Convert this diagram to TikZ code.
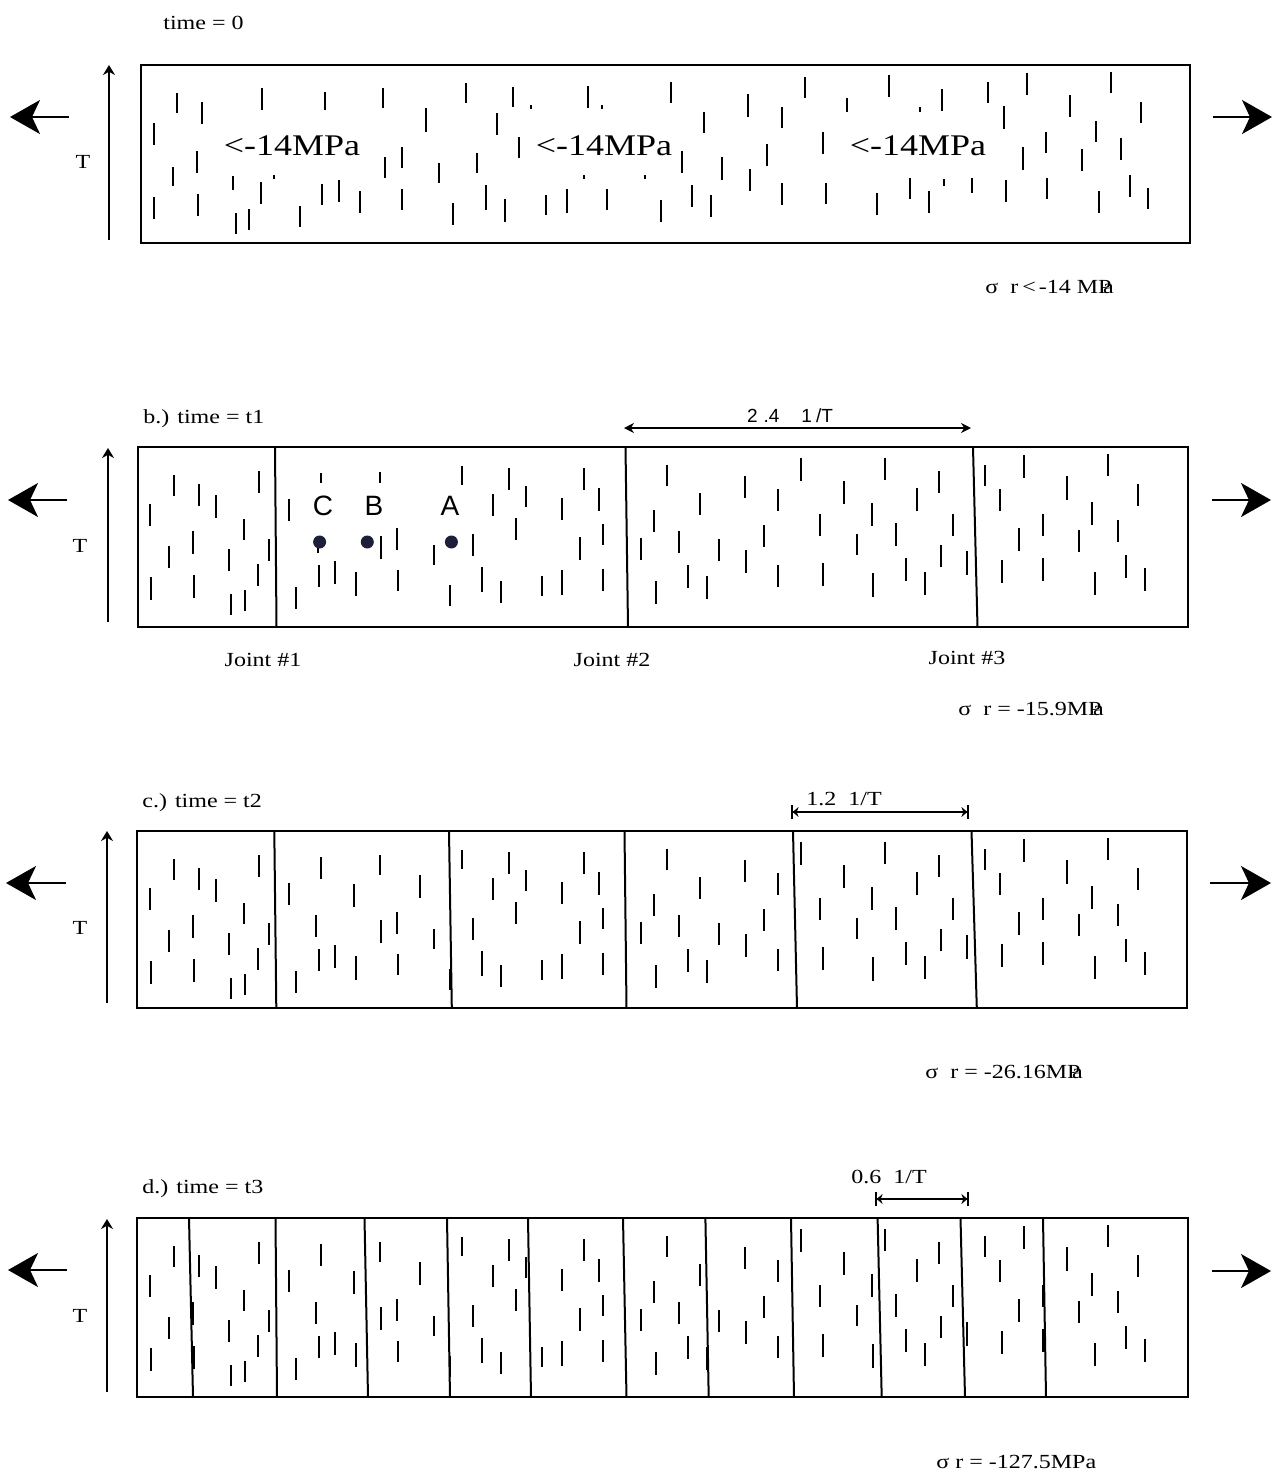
\documentclass[tikz,border=0pt]{standalone}
\usepackage{fontspec}
\setmainfont{Liberation Serif}[FakeStretch=1.2]
\setsansfont{Liberation Sans}
\usetikzlibrary{arrows.meta}

\definecolor{dotnavy}{RGB}{28,30,58}

\tikzset{
  slab/.style={line width=1.1pt},
  crack/.style={line width=0.9pt},
  joint/.style={line width=1pt},
  pull/.style={line width=1pt,-{Stealth[length=15pt,width=17pt,inset=4pt]}},
  taxis/.style={line width=1pt,-{Stealth[length=5pt,width=6pt]}},
  gap/.style={line width=0.8pt,{Stealth[length=5pt,width=5pt]}-{Stealth[length=5pt,width=5pt]}},
  gapbar/.style={line width=0.8pt,{Bar[width=7pt]Stealth[length=3pt,width=5pt]}-{Stealth[length=3pt,width=5pt]Bar[width=7pt]}},
  lbl/.style={font=\fontsize{10}{12}\selectfont,inner sep=0pt},
  stress/.style={font=\fontsize{15}{18}\selectfont,inner sep=0pt},
  site/.style={font=\sffamily\fontsize{14}{16}\selectfont,inner sep=0pt},
}

% cracks common to the jointed slabs, #1 = top edge
\newcommand\crackset[1]{%
  \foreach \x/\ya/\yb in {174/28/49,199/37/59,216/48/71,259/24/46,150/57/79,244/72/93,
    193/84/107,169/99/121,229/102/124,269/92/114,258/117/139,151/130/153,194/128/151,
    231/147/168,245/143/164,
    289/52/74,381/89/112,397/81/103,434/98/118,319/118/140,335/114/137,
    356/125/149,398/123/144,296/140/162,450/138/159,
    462/19/38,509/21/43,526/39/60,493/47/69,584/21/43,599/41/64,562/51/73,516/71/93,
    603/77/98,580/90/113,473/87/109,482/120/145,501/134/156,542/129/149,562/123/148,603/122/144,
    667/18/39,700/46/68,654/63/85,641/91/113,679/84/106,656/134/157,688/118/141,707/129/152,
    719/92/114,745/29/51,746/103/126,764/78/100,778/42/64,778/118/140,
    801/11/34,820/67/89,823/116/139,844/34/57,857/87/108,872/56/79,873/126/150,885/11/33,
    896/76/99,906/111/134,917/41/64,925/125/148,939/24/46,941/98/120,953/67/89,967/104/128,
    985/18/39,1000/42/64,1024/8/31,1067/29/53,1108/7/29,1138/37/59,1092/55/78,1043/67/89,
    1019/81/104,1079/83/105,1118/73/95,1002/113/136,1043/111/134,1095/125/148,1126/108/131,1145/121/144}
    \draw[crack] (\x,#1+\ya) -- (\x,#1+\yb);
}
% cracks hidden by the labels in b.)
\newcommand\crackextra[1]{%
  \foreach \x/\ya/\yb in {321/26/48,380/24/44,354/53/76,316/84/106,420/44/67}
    \draw[crack] (\x,#1+\ya) -- (\x,#1+\yb);
}

\begin{document}
\begin{tikzpicture}[x=0.5pt,y=-0.5pt]

    \useasboundingbox[fill=white] (0,0) rectangle (1276,1473);

    % a.) time = 0
    \node[lbl,anchor=base west] (tA) at (163,29) {time = 0};
    \draw[slab] (141,65) rectangle (1190,243);
    \draw[pull] (69,117) -- (10,117);
    \draw[pull] (1213,117) -- (1272,117);
    \draw[taxis] (109,240) -- (109,65);
    \node[lbl,anchor=base] (aT) at (83,168) {T};
    \foreach \x/\ya/\yb in {177/93/113,202/102/124,262/88/110,325/92/110,383/88/108,466/83/103,
      513/87/107,588/86/108,426/108/132,497/113/135,154/123/145,519/137/158,197/151/173,
      385/157/178,402/147/168,439/163/183,477/153/173,173/167/186,233/176/190,261/182/204,
      154/197/219,198/194/216,236/213/234,249/209/230,300/206/227,322/184/205,339/180/202,
      360/191/213,402/189/210,453/203/225,486/185/210,505/199/222,546/195/215,567/189/213,
      607/189/210,531/105/109,602/105/109,274/175/179,584/175/179,645/175/179,
      671/82/103,805/77/98,889/75/97,1027/73/95,1111/72/93,748/94/117,782/107/128,847/98/112,
      920/107/112,942/89/111,988/82/103,1004/106/129,1070/95/117,1141/102/123,704/112/133,
      1096/121/142,1046/132/153,1121/138/160,823/132/154,767/144/166,682/151/173,722/157/180,
      1023/147/170,1082/149/171,750/169/191,692/185/207,711/195/217,782/183/205,826/183/204,
      877/193/215,910/178/199,929/191/213,944/179/186,972/178/193,1006/180/202,1047/178/199,
      1099/191/213,1130/175/197,1148/188/209,661/200/222}
      \draw[crack] (\x,\ya) -- (\x,\yb);
    \node[stress,anchor=base] (s1) at (292,155) {<-14MPa};
    \node[stress,anchor=base] (s2) at (604,155) {<-14MPa};
    \node[stress,anchor=base] (s3) at (918,155) {<-14MPa};
    \node[lbl,anchor=base west] (rA) at (985,293)
      {σ\hspace{0.6em}r\hspace{0.2em}<\hspace{0.15em}-14 M\rlap{P}\kern0.25em a};

    % b.) time = t1
    \def\topb{447}
    \node[lbl,anchor=base west] (tB) at (143,423) {b.) time = t1};
    \draw[slab] (138,\topb) rectangle (1188,627);
    \draw[pull] (67,500) -- (8,500);
    \draw[pull] (1212,500) -- (1271,500);
    \draw[taxis] (108,622) -- (108,448);
    \node[lbl,anchor=base] (bT) at (80,552) {T};
    \foreach \xa/\xb in {275/276.5,625.5/628,973/977.5}
      \draw[joint] (\xa,\topb) -- (\xb,627);
    \crackset{\topb}
    \draw[crack] (321,473) -- (321,483);
    \draw[crack] (380,472) -- (380,483);
    \draw[crack] (318,537) -- (318,553);
    \fill[dotnavy] (319.6,542) circle[radius=6.5];
    \fill[dotnavy] (367.3,542) circle[radius=6.5];
    \fill[dotnavy] (451.4,542) circle[radius=6.5];
    \node[site,anchor=base] (lC) at (323,515) {C};
    \node[site,anchor=base] (lB) at (374,515) {B};
    \node[site,anchor=base] (lA) at (450,515) {A};
    \coordinate (b-gl) at (624,428);
    \coordinate (b-gr) at (971,428);
    \draw[gap] (b-gl) -- (b-gr);
    \node[anchor=base,inner sep=0pt,font=\sffamily\fontsize{9.5}{11}\selectfont] (bW) at (790,422)
      {2\hspace{3pt}.4\hspace{11pt}1\hspace{2pt}/T};
    \node[lbl,anchor=base] (j1) at (263,666) {Joint \#1};
    \node[lbl,anchor=base] (j2) at (612,666) {Joint \#2};
    \node[lbl,anchor=base] (j3) at (967,664) {Joint \#3};
    \node[lbl,anchor=base west] (rB) at (958,715)
      {σ\hspace{0.6em}r = -15.9M\rlap{P}\kern0.25em a};

    % c.) time = t2
    \def\topc{831}
    \node[lbl,anchor=base west] (tC) at (142,807) {c.) time = t2};
    \draw[slab] (137,\topc) rectangle (1187,1008);
    \draw[pull] (66,883) -- (6,883);
    \draw[pull] (1210,883) -- (1271,883);
    \draw[taxis] (107,1003) -- (107,831);
    \node[lbl,anchor=base] (cT) at (80,934) {T};
    \foreach \xa/\xb in {274.3/276.3,449/451.8,624.5/626.5,793/797,971.5/976.8}
      \draw[joint] (\xa,\topc) -- (\xb,1008);
    \crackset{\topc}
    \crackextra{\topc}
    \coordinate (c-gl) at (791,812);
    \coordinate (c-gr) at (969,812);
    \draw[gapbar] (c-gl) -- (c-gr);
    \node[lbl,anchor=base] (cW) at (844,805) {1.2\hspace{0.6em}1/T};
    \node[lbl,anchor=base west] (rC) at (925,1078)
      {σ\hspace{0.6em}r = -26.16M\rlap{P}\kern0.25em a};

    % d.) time = t3
    \def\topd{1218}
    \node[lbl,anchor=base west] (tD) at (142,1193) {d.) time = t3};
    \draw[slab] (137,\topd) rectangle (1188,1397);
    \draw[pull] (67,1270) -- (8,1270);
    \draw[pull] (1212,1271) -- (1271,1271);
    \draw[taxis] (107,1392) -- (107,1219);
    \node[lbl,anchor=base] (dT) at (80,1322) {T};
    \foreach \xa/\xb in {189/193,275.5/277,364.5/368,447/450,528/531,623/626.5,
      705.4/708.7,791/794,877.6/881.7,960.5/965,1043/1046}
      \draw[joint] (\xa,\topd) -- (\xb,1397);
    \crackset{\topd}
    \crackextra{\topd}
    \coordinate (d-gl) at (875,1199);
    \coordinate (d-gr) at (969,1199);
    \draw[gapbar] (d-gl) -- (d-gr);
    \node[lbl,anchor=base] (dW) at (889,1183) {0.6\hspace{0.6em}1/T};
    \node[lbl,anchor=base west] (rD) at (936,1468) {σ r = -127.5MPa};

\end{tikzpicture}
\end{document}
